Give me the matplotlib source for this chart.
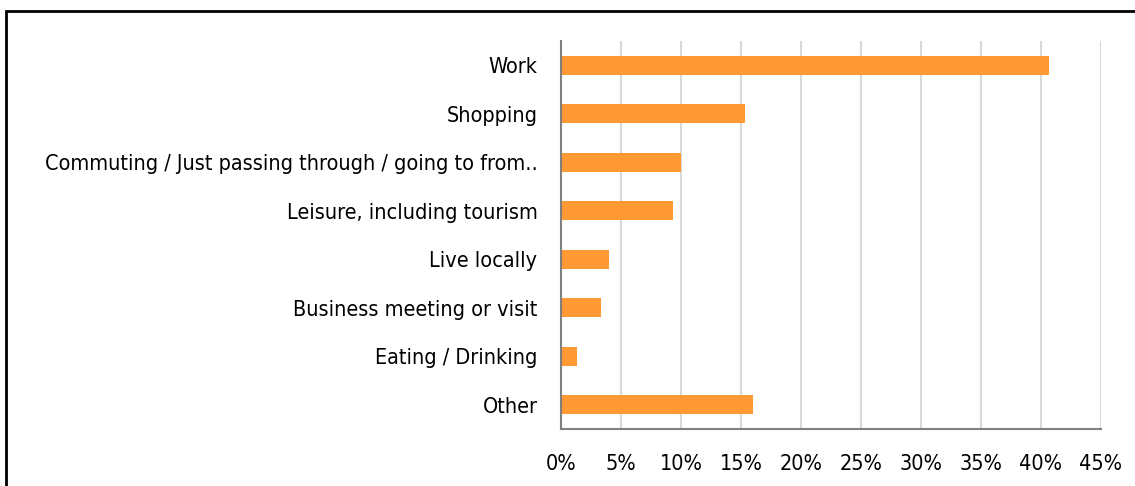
import matplotlib
matplotlib.use("Agg")
import matplotlib.pyplot as plt
from matplotlib.patches import Rectangle
from matplotlib.ticker import FuncFormatter

plt.rcParams["font.family"] = ["Liberation Sans Narrow", "DejaVu Sans"]
plt.rcParams["font.stretch"] = "condensed"

reasons = ["Work", "Shopping", "Commuting / Just passing through / going to from..",
           "Leisure, including tourism", "Live locally", "Business meeting or visit",
           "Eating / Drinking", "Other"]
share_pct = [40.7, 15.3, 10.0, 9.3, 4.0, 3.3, 1.3, 16.0]
xticks_pct = [0, 5, 10, 15, 20, 25, 30, 35, 40, 45]

ORANGE = "#FF9933"
GRID = "#D9D9D9"

fig = plt.figure(figsize=(11.35, 4.86), dpi=100)
ax = fig.add_axes([561 / 1135, 57 / 486, 540 / 1135, 388 / 486])

pos = list(range(len(reasons)))
ax.barh(pos, share_pct, height=0.4, color=ORANGE, zorder=3)
ax.set_yticks(pos)
ax.set_yticklabels(reasons)
ax.set_ylim(len(reasons) - 0.5, -0.5)

ax.set_xlim(0, 45)
ax.set_xticks(xticks_pct)
ax.xaxis.set_major_formatter(FuncFormatter(lambda v, _: f"{v:.0f}%"))
ax.grid(axis="x", color=GRID, lw=1.5, zorder=0)

for s in ["top", "right"]:
    ax.spines[s].set_visible(False)
for s in ["left", "bottom"]:
    ax.spines[s].set_color("#808080")
    ax.spines[s].set_linewidth(1.5)
ax.spines["left"].set_zorder(4)

ax.tick_params(axis="both", length=0, labelsize=15.5, colors="black")
ax.tick_params(axis="y", pad=17)
ax.tick_params(axis="x", pad=18)

# outer frame, cut off at the right and bottom
fig.patches.append(Rectangle((6 / 1135, -0.1), 1.2, (486 - 11) / 486 + 0.1,
                             transform=fig.transFigure, fill=False,
                             edgecolor="black", lw=2))

fig.savefig("out.png", dpi=100)
